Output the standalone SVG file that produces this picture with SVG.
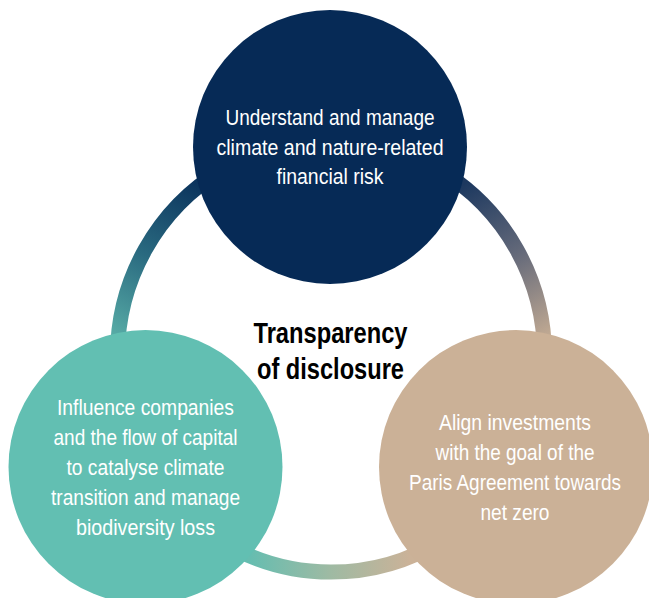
<svg xmlns="http://www.w3.org/2000/svg" width="649" height="598" viewBox="0 0 649 598">
  <style>
    .ring { fill: none; stroke-width: 15; }
    .body { font-family: "Liberation Sans", Arial, sans-serif; font-size: 22px; fill: #ffffff; text-anchor: middle; }
    .title { font-family: "Liberation Sans", Arial, sans-serif; font-size: 29.5px; font-weight: bold; fill: #000000; text-anchor: middle; }
  </style>
  <defs>
    <linearGradient id="gLeft" gradientUnits="userSpaceOnUse" x1="200" y1="185" x2="118" y2="340">
      <stop offset="0" stop-color="#0b345d"/>
      <stop offset="0.5" stop-color="#2a6a80"/>
      <stop offset="1" stop-color="#58ada7"/>
    </linearGradient>
    <linearGradient id="gRight" gradientUnits="userSpaceOnUse" x1="462" y1="185" x2="545" y2="340">
      <stop offset="0" stop-color="#1c385f"/>
      <stop offset="0.5" stop-color="#656a7a"/>
      <stop offset="1" stop-color="#c3ab93"/>
    </linearGradient>
    <linearGradient id="gBottom" gradientUnits="userSpaceOnUse" x1="250" y1="0" x2="410" y2="0">
      <stop offset="0" stop-color="#66bdb0"/>
      <stop offset="0.5" stop-color="#9ebaa3"/>
      <stop offset="1" stop-color="#cbb298"/>
    </linearGradient>
  </defs>

  <g id="connectors">
    <path class="ring" stroke="url(#gRight)" d="M 331 140 A 213.5 216 0 0 1 514 467.3"/>
    <path class="ring" stroke="url(#gBottom)" d="M 514 467.3 A 213.5 216 0 0 1 148 467.3"/>
    <path class="ring" stroke="url(#gLeft)" d="M 148 467.3 A 213.5 216 0 0 1 331 140"/>
  </g>

  <g id="node-top">
    <circle cx="330" cy="147" r="137" fill="#062a56"/>
    <text class="body" x="330" y="125" textLength="209" lengthAdjust="spacingAndGlyphs">Understand and manage</text>
    <text class="body" x="330" y="154.5" textLength="227" lengthAdjust="spacingAndGlyphs">climate and nature-related</text>
    <text class="body" x="330" y="184" textLength="107" lengthAdjust="spacingAndGlyphs">financial risk</text>
  </g>

  <g id="node-left">
    <circle cx="145.5" cy="467" r="137" fill="#62bfb2"/>
    <text class="body" x="145.5" y="415" textLength="177" lengthAdjust="spacingAndGlyphs">Influence companies</text>
    <text class="body" x="145.5" y="445" textLength="184" lengthAdjust="spacingAndGlyphs">and the flow of capital</text>
    <text class="body" x="145.5" y="475" textLength="158" lengthAdjust="spacingAndGlyphs">to catalyse climate</text>
    <text class="body" x="145.5" y="505" textLength="189" lengthAdjust="spacingAndGlyphs">transition and manage</text>
    <text class="body" x="145.5" y="535" textLength="139" lengthAdjust="spacingAndGlyphs">biodiversity loss</text>
  </g>

  <g id="node-right">
    <circle cx="516" cy="467" r="137" fill="#cbb197"/>
    <text class="body" x="515" y="430" textLength="152" lengthAdjust="spacingAndGlyphs">Align investments</text>
    <text class="body" x="515" y="460" textLength="159" lengthAdjust="spacingAndGlyphs">with the goal of the</text>
    <text class="body" x="515" y="490" textLength="212" lengthAdjust="spacingAndGlyphs">Paris Agreement towards</text>
    <text class="body" x="515" y="520" textLength="69" lengthAdjust="spacingAndGlyphs">net zero</text>
  </g>

  <g id="node-center">
    <text class="title" x="330.5" y="343" textLength="154" lengthAdjust="spacingAndGlyphs">Transparency</text>
    <text class="title" x="330.5" y="379" textLength="147" lengthAdjust="spacingAndGlyphs">of disclosure</text>
  </g>
</svg>
